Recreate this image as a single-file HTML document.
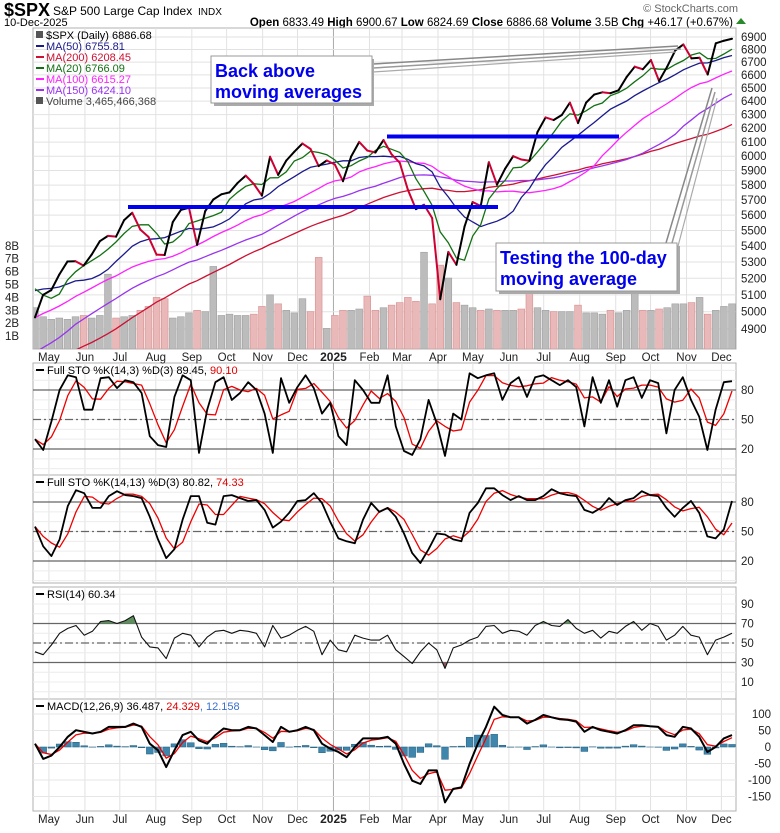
<!DOCTYPE html>
<html><head><meta charset="utf-8">
<style>
html,body{margin:0;padding:0;background:#fff;}
body{width:780px;height:828px;overflow:hidden;font-family:"Liberation Sans",sans-serif;}
svg text{font-family:"Liberation Sans",sans-serif;}
</style></head>
<body>
<svg id="chart" width="780" height="828" viewBox="0 0 780 828" xmlns="http://www.w3.org/2000/svg">
<defs>
<clipPath id="cp1"><rect x="33" y="28" width="703" height="321"/></clipPath>
</defs>
<g>
<text x="4" y="16" font-size="18" font-weight="bold" fill="#000">$SPX</text>
<text x="53" y="15" font-size="12" fill="#000">S&amp;P 500 Large Cap Index</text>
<text x="198" y="15" font-size="10" fill="#000">INDX</text>
<text x="4" y="26" font-size="11" fill="#000">10-Dec-2025</text>
<text x="738" y="12" font-size="11" fill="#666" text-anchor="end">© StockCharts.com</text>
<text x="733" y="26" font-size="11.5" fill="#000" text-anchor="end"><tspan font-weight="bold">Open</tspan> 6833.49  <tspan font-weight="bold">High</tspan> 6900.67  <tspan font-weight="bold">Low</tspan> 6824.69  <tspan font-weight="bold">Close</tspan> 6886.68  <tspan font-weight="bold">Volume</tspan> 3.5B  <tspan font-weight="bold">Chg</tspan> +46.17 (+0.67%)</text>
<path d="M736 24 L741 18 L746 24 Z" fill="#2a8a2a"/>
</g>
<g id="frames"></g>
<g id="grid"></g>
<g id="marks"></g>
<g id="labels"></g>
<g>
<line x1="373" y1="64" x2="678" y2="46" stroke="#888" stroke-width="1.5"/>
<line x1="373" y1="68" x2="681" y2="49" stroke="#999" stroke-width="1.5"/>
<line x1="373" y1="72" x2="676" y2="52" stroke="#aaa" stroke-width="1.2"/>
<rect x="214" y="59" width="160" height="47" fill="#aaa"/>
<rect x="211" y="56" width="161" height="47" fill="#fff" stroke="#999"/>
<text x="215" y="77" font-size="18" font-weight="bold" fill="#0000ee">Back above</text>
<text x="215" y="98" font-size="18" font-weight="bold" fill="#0000ee">moving averages</text>
<line x1="666" y1="243" x2="712" y2="88" stroke="#888" stroke-width="1.5"/>
<line x1="672" y1="243" x2="715" y2="92" stroke="#999" stroke-width="1.5"/>
<line x1="677" y1="250" x2="717" y2="98" stroke="#aaa" stroke-width="1.2"/>
<rect x="499" y="246" width="181" height="48" fill="#aaa"/>
<rect x="496" y="243" width="181" height="48" fill="#fff" stroke="#999"/>
<text x="500" y="264" font-size="18" font-weight="bold" fill="#0000ee">Testing the 100-day</text>
<text x="500" y="285" font-size="18" font-weight="bold" fill="#0000ee">moving average</text>
</g>
</svg>
<script>
// ---- data ----
const preCloses = [4505,4536,4582,4478,4464,4370,4406,4516,4457,4450,4320,4288,4308,4327,4224,4117,4358,4415,4514,4559,4595,4604,4719,4755,4770,4697,4784,4840,4891,4959,5027,5006,5089,5137,5124,5117,5234,5254,5204,5123];
const closes = [4967,5100,5128,5223,5303,5305,5278,5347,5431,5465,5460,5567,5615,5505,5459,5346,5344,5554,5634,5648,5408,5626,5703,5738,5751,5815,5865,5808,5729,5996,5870,5969,6032,6090,6051,5931,5970,5942,5827,5997,6101,6040,6026,6115,6013,5955,5770,5639,5668,5581,5074,5363,5283,5525,5686,5660,5958,5803,5912,6000,5977,5968,6173,6279,6260,6297,6389,6238,6389,6450,6467,6460,6482,6584,6664,6644,6716,6553,6664,6792,6840,6729,6734,6603,6849,6870,6886];
const volumes = [3.2,2.5,2.3,2.4,2.3,2.5,2.6,2.4,2.6,5.8,2.4,2.5,2.6,3.0,3.3,4.0,3.9,2.4,2.5,2.8,3.0,2.9,6.4,2.6,2.7,2.6,2.6,2.7,3.3,4.2,3.5,3.0,2.8,3.9,2.9,7.1,1.6,2.6,3.0,3.0,3.1,4.1,3.0,3.2,3.4,3.6,4.0,3.7,7.5,3.5,6.5,5.5,3.6,3.4,3.2,3.0,3.1,3.0,3.0,3.0,3.1,4.3,3.2,3.0,2.9,2.9,2.9,3.4,2.8,2.8,2.7,3.0,2.8,3.0,5.0,3.0,3.0,3.1,3.2,3.5,3.5,3.6,4.0,2.7,3.0,3.3,3.5];
const stoFastK = [30,19,48,80,95,93,60,60,92,93,82,90,88,77,33,24,22,73,95,90,16,60,88,93,70,77,88,80,56,16,92,67,83,95,82,56,67,33,24,90,80,67,67,95,43,18,14,30,70,46,13,56,50,97,92,95,97,70,87,93,73,93,95,90,85,90,83,43,93,67,90,63,90,93,72,90,87,36,80,93,70,53,19,60,88,89];
const stoSlowK = [55,35,25,42,76,92,89,74,74,86,91,87,86,84,65,42,23,32,62,86,86,59,57,86,87,84,81,82,72,54,60,69,81,82,89,79,60,43,40,38,62,79,70,74,65,48,28,18,32,48,47,42,40,69,79,94,94,87,82,86,82,82,86,93,89,87,86,72,69,74,84,77,82,84,91,87,86,74,65,74,81,69,45,43,52,81];
const rsiValues = [41,38,48,60,65,68,58,62,72,73,70,73,78,56,46,45,34,55,60,58,46,56,62,63,60,63,62,60,46,68,55,58,63,67,62,38,53,43,41,58,55,53,53,58,43,36,29,41,50,43,24,45,48,53,56,67,68,60,63,62,58,68,72,68,67,74,65,60,63,55,62,60,67,72,63,70,67,53,58,67,58,56,38,53,56,60];
const macdValues = [10,-36,-26,0,31,51,46,41,46,61,61,61,71,61,10,-10,-61,-10,36,46,20,10,36,56,51,51,61,56,36,15,61,46,51,61,51,10,-5,-15,-31,0,26,26,26,31,10,-51,-102,-112,-71,-71,-168,-127,-122,-51,10,61,122,97,90,90,71,82,97,90,84,82,77,46,61,51,46,41,51,66,66,63,61,36,31,61,56,31,-15,0,26,36];
const priceTicks = [4900,5000,5100,5200,5300,5400,5500,5600,5700,5800,5900,6000,6100,6200,6300,6400,6500,6600,6700,6800,6900];
const volumeTicks = [1,2,3,4,5,6,7,8];
const monthLabels = ["May","Jun","Jul","Aug","Sep","Oct","Nov","Dec","2025","Feb","Mar","Apr","May","Jun","Jul","Aug","Sep","Oct","Nov","Dec"];
const monthWeeks = [1.71,6.14,10.43,14.86,19.29,23.57,28,32.29,36.71,41.14,45.14,49.57,53.86,58.29,62.57,67,71.43,75.71,80.14,84.43];

// ---- scales ----
const X0 = 35, XW = 697;
const xP = i => X0 + i * XW / (closes.length - 1);
const xI = k => X0 + k * XW / (stoFastK.length - 1);
const xW = w => X0 + w * 8.13;
const yP = p => 37 + 853 * Math.log(6900 / p);
const yV = v => 349 - v * 12.9;
const yS1 = v => 449 - (v - 20) * 0.983;
const yS2 = v => 561 - (v - 20) * 0.983;
const yR = v => 643 - (v - 50) * 0.975;
const yM = v => 747 - v * 0.33;

const NS = "http://www.w3.org/2000/svg";
function mk(parent, tag, attrs) {
  const e = document.createElementNS(NS, tag);
  for (const k in attrs) e.setAttribute(k, attrs[k]);
  parent.appendChild(e);
  return e;
}
const gF = document.getElementById("frames"), gG = document.getElementById("grid"),
      gM = document.getElementById("marks"), gL = document.getElementById("labels");

const panels = [[28,349,"price-panel"],[363,475,"stochastic-fast-panel"],[475,583,"stochastic-slow-panel"],[587,699,"rsi-panel"],[699,811,"macd-panel"]];
panels.forEach(p => {
  const r = mk(gF, "rect", {x:33, y:p[0], width:703, height:p[1]-p[0], fill:"#fff", stroke:"#b0b0b0"});
  
  
});

monthWeeks.forEach((w, j) => {
  panels.forEach(p => {
    const l = mk(gG, "line", {x1:xW(w), x2:xW(w), y1:p[0], y2:p[1], stroke: monthLabels[j]==="2025" ? "#aaa" : "#e2e2e2"});
    
    
  });
  [357, 819].forEach(yy => {
    const t = mk(gL, "text", {x:xW(w), y:yy+4, "font-size": monthLabels[j]==="2025" ? 12 : 11.5, "font-weight": monthLabels[j]==="2025" ? "bold" : "normal", "text-anchor":"middle", fill:"#222"});
    t.textContent = monthLabels[j];
    
    
  });
});

priceTicks.forEach(p => {
  const l = mk(gG, "line", {x1:33, x2:736, y1:yP(p), y2:yP(p), stroke:"#e2e2e2"});
  
  
  const t = mk(gL, "text", {x:741, y:yP(p)+4, "font-size":11.5, fill:"#222"});
  t.textContent = p;
  
  
});
volumeTicks.forEach(v => {
  const t = mk(gL, "text", {x:5, y:yV(v)+4, "font-size":11.5, fill:"#222"});
  t.textContent = v + "B";
  
  
});

function oscGrid(ys, levels, name) {
  for (let v = 0; v <= 100; v += 10) {
    const l = mk(gG, "line", {x1:33, x2:736, y1:ys(v), y2:ys(v), stroke:"#ececec"});
    
    
  }
  levels.forEach(lv => {
    const attrs = {x1:33, x2:736, y1:ys(lv[0]), y2:ys(lv[0]), stroke:"#666", "stroke-width":1.2};
    if (lv[1]) attrs["stroke-dasharray"] = "8,3,2,3";
    const l = mk(gG, "line", attrs);
    
    
    if (lv[2]) {
      const t = mk(gL, "text", {x:741, y:ys(lv[0])+4, "font-size":11.5, fill:"#222"});
      t.textContent = lv[0];
      
      
    }
  });
}
oscGrid(yS1, [[80,0,1],[50,1,1],[20,0,1]], "sto-fast");
oscGrid(yS2, [[80,0,1],[50,1,1],[20,0,1]], "sto-slow");
oscGrid(yR, [[70,0,1],[50,1,1],[30,0,1]], "rsi");
[[90],[10]].forEach(v => {
  const t = mk(gL, "text", {x:741, y:yR(v[0])+4, "font-size":11.5, fill:"#222"});
  t.textContent = v[0];
  
  
});
[100,50,0,-50,-100,-150].forEach(v => {
  const l = mk(gG, "line", {x1:33, x2:736, y1:yM(v), y2:yM(v), stroke:"#e6e6e6"});
  
  
  const t = mk(gL, "text", {x:771, y:yM(v)+4, "font-size":11.5, fill:"#222", "text-anchor":"end"});
  t.textContent = v;
  
  
});

// ---- price panel ----
const gPrice = mk(gM, "g", {"clip-path":"url(#cp1)"});


volumes.forEach((v, i) => {
  const down = i > 0 && closes[i] < closes[i-1];
  const r = mk(gPrice, "rect", {x:xP(i)-3.4, y:yV(v), width:6.8, height:349-yV(v), fill: down ? "#e9b8b8" : "#bcbcbc", stroke: down ? "#d89090" : "#a0a0a0", "stroke-width":0.6});
  
  
});
const all = preCloses.concat(closes);
function maSeries(n) {
  return closes.map((c, i) => {
    let s = 0; const e = preCloses.length + i;
    for (let k = e - n + 1; k <= e; k++) s += all[k];
    return s / n;
  });
}
const maDefs = [[40,"#cc1133","ma-200-line"],[30,"#9933ee","ma-150-line"],[20,"#ff22ff","ma-100-line"],[10,"#1a1a8c","ma-50-line"],[4,"#127012","ma-20-line"]];
maDefs.forEach(d => {
  const vals = maSeries(d[0]);
  const pts = vals.map((v, i) => xP(i).toFixed(1) + "," + yP(v).toFixed(1)).join(" ");
  const pl = mk(gPrice, "polyline", {points:pts, fill:"none", stroke:d[1], "stroke-width":1.3});
  
  
});
for (let i = 1; i < closes.length; i++) {
  const l = mk(gPrice, "line", {x1:xP(i-1), y1:yP(closes[i-1]), x2:xP(i), y2:yP(closes[i]), stroke: closes[i] >= closes[i-1] ? "#000" : "#cc0033", "stroke-width":2, "stroke-linecap":"round"});
  
  
}
const b1 = mk(gPrice, "line", {x1:128, x2:498, y1:207, y2:207, stroke:"#0000ee", "stroke-width":4});


const b2 = mk(gPrice, "line", {x1:387, x2:619, y1:136.5, y2:136.5, stroke:"#0000ee", "stroke-width":4});



const legend = [["$SPX (Daily) 6886.68","#000",null],["MA(50) 6755.81","#1a1a8c","#1a1a8c"],["MA(200) 6208.45","#cc1133","#cc1133"],["MA(20) 6766.09","#127012","#127012"],["MA(100) 6615.27","#ff22ff","#ff22ff"],["MA(150) 6424.10","#9933ee","#9933ee"],["Volume 3,465,466,368","#444",null]];
legend.forEach((e, j) => {
  const yy = 35 + j * 11;
  if (e[2]) {
    const l = mk(gL, "line", {x1:36, x2:44, y1:yy, y2:yy, stroke:e[2], "stroke-width":2});
    
    
  } else {
    const r = mk(gL, "rect", {x:36, y:yy-4, width:7, height:7, fill:"#555"});
    
    
  }
  const t = mk(gL, "text", {x:46, y:yy+4, "font-size":11, fill:e[1]});
  t.textContent = e[0];
  
  
});

// ---- oscillators ----
function sma3(a) { return a.map((v, i) => { const s = a.slice(Math.max(0, i-2), i+1); return s.reduce((p, c) => p + c, 0) / s.length; }); }
function line(vals, ys, color, w, name) {
  const pts = vals.map((v, i) => xI(i).toFixed(1) + "," + ys(v).toFixed(1)).join(" ");
  const pl = mk(gM, "polyline", {points:pts, fill:"none", stroke:color, "stroke-width":w, "stroke-linejoin":"round"});
  
  
}
line(sma3(stoFastK), yS1, "#ee0000", 1.3, "sto-fast-d-line");
line(stoFastK, yS1, "#000", 1.8, "sto-fast-k-line");
line(sma3(stoSlowK), yS2, "#ee0000", 1.3, "sto-slow-d-line");
line(stoSlowK, yS2, "#000", 1.8, "sto-slow-k-line");

const rsiPts = rsiValues.map((v, i) => xI(i).toFixed(1) + "," + yR(v).toFixed(1)).join(" ");
const cpA = mk(document.querySelector("defs"), "clipPath", {id:"cpA"});
mk(cpA, "rect", {x:33, y:587, width:703, height:yR(70)-587});
const cpB = mk(document.querySelector("defs"), "clipPath", {id:"cpB"});
mk(cpB, "rect", {x:33, y:yR(30), width:703, height:699-yR(30)});
const fa = mk(gM, "polygon", {points: xI(0)+","+yR(70)+" "+rsiPts+" "+xI(rsiValues.length-1)+","+yR(70), fill:"#5e8f5e", "clip-path":"url(#cpA)"});


const fb = mk(gM, "polygon", {points: xI(0)+","+yR(30)+" "+rsiPts+" "+xI(rsiValues.length-1)+","+yR(30), fill:"#8a5a5a", "clip-path":"url(#cpB)"});


line(rsiValues, yR, "#111", 1.1, "rsi-line");

const signal = []; macdValues.forEach((v, i) => signal.push(i === 0 ? v : signal[i-1] + 0.6 * (v - signal[i-1])));
macdValues.forEach((v, i) => {
  const h = v - signal[i];
  const r = mk(gM, "rect", {x:xI(i)-3.4, y:Math.min(yM(h), yM(0)), width:6.8, height:Math.abs(yM(h)-yM(0)), fill:"#3f86ad", stroke:"#1f5f80", "stroke-width":0.5});
  
  
});
line(signal, yM, "#ee0000", 1.3, "macd-signal-line");
line(macdValues, yM, "#000", 2, "macd-line");

const titles = [[374,"Full STO %K(14,3) %D(3) 89.45, ","90.10","#e00000","sto-fast-title"],[486,"Full STO %K(14,13) %D(3) 80.82, ","74.33","#e00000","sto-slow-title"],[598,"RSI(14) 60.34","","#000","rsi-title"],[710,"MACD(12,26,9) 36.487, ","24.329","#e00000","macd-title"]];
titles.forEach(tt => {
  const sw = mk(gL, "line", {x1:36, x2:44, y1:tt[0]-4, y2:tt[0]-4, stroke:"#000", "stroke-width":2});
  
  
  const t = mk(gL, "text", {x:47, y:tt[0], "font-size":11, fill:"#000"});
  t.textContent = tt[1];
  const s = mk(t, "tspan", {fill:tt[3]});
  s.textContent = tt[2];
  if (tt[4] === "macd-title") { const s2 = mk(t, "tspan", {fill:"#3a6fd0"}); s2.textContent = ", 12.158"; }
  
  
});
</script>
</body></html>
